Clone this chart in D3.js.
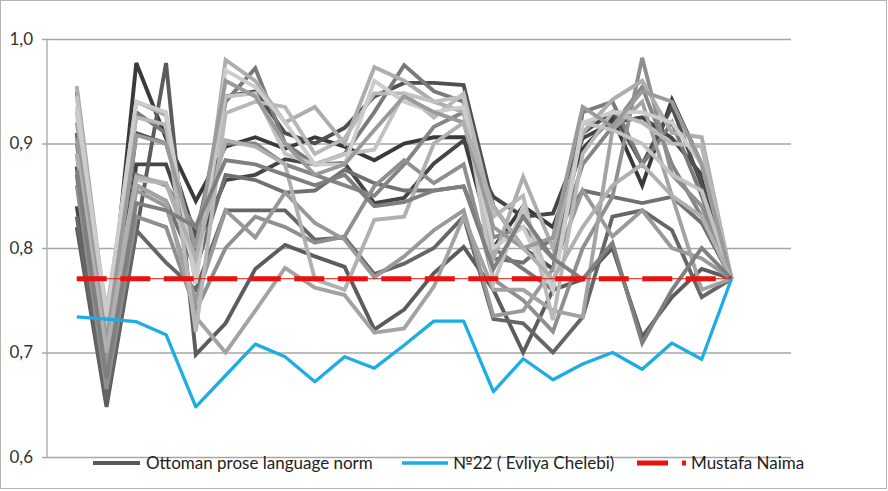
<!DOCTYPE html>
<html><head><meta charset="utf-8">
<script src="https://cdn.jsdelivr.net/npm/d3@7"></script>
<style>
html,body{margin:0;padding:0;background:#fff;}
svg{display:block;font-family:Lato,"Open Sans",sans-serif;}
</style></head>
<body>
<svg id="chart" width="888" height="491"></svg>
<script>
// ---- data ----
const pointCount = 23; // texts along the x axis (no category labels shown)
const yTicks = [0.6, 0.7, 0.8, 0.9, 1.0];
const legendLabels = ["Ottoman prose language norm", "№22 ( Evliya Chelebi)", "Mustafa Naima"];

const naima = 0.7706;
const evliya = [0.734, 0.732, 0.7295, 0.717, 0.648, 0.678, 0.708, 0.696, 0.672, 0.696, 0.685, 0.707, 0.730, 0.730, 0.6625, 0.694, 0.674, 0.689, 0.700, 0.684, 0.709, 0.6935, 0.7706];

const grayColors = ["#3a3a3a","#454545","#4f4f4f","#5c5c5c","#666666","#707070","#7a7a7a","#858585","#8f8f8f","#999999","#a3a3a3","#adadad","#b8b8b8","#c2c2c2","#cccccc","#9a9a9a","#b0b0b0","#7f7f7f"];
const g1  = [0.878,0.700,0.977,0.905,0.845,0.897,0.906,0.895,0.906,0.897,0.884,0.900,0.906,0.906,0.800,0.840,0.820,0.895,0.925,0.860,0.942,0.880,0.7706];
const g2  = [0.840,0.660,0.880,0.880,0.800,0.865,0.870,0.885,0.880,0.881,0.843,0.848,0.881,0.903,0.849,0.830,0.833,0.905,0.920,0.925,0.905,0.870,0.7706];
const g3  = [0.910,0.680,0.910,0.900,0.810,0.945,0.950,0.910,0.900,0.915,0.945,0.958,0.958,0.956,0.840,0.800,0.780,0.910,0.930,0.880,0.935,0.860,0.7706];
const g4  = [0.820,0.648,0.815,0.977,0.698,0.728,0.780,0.803,0.792,0.782,0.722,0.741,0.776,0.801,0.760,0.700,0.760,0.770,0.800,0.715,0.753,0.780,0.7706];
const g5  = [0.830,0.655,0.817,0.786,0.760,0.836,0.836,0.836,0.808,0.810,0.775,0.785,0.800,0.830,0.732,0.728,0.700,0.734,0.830,0.836,0.817,0.753,0.7706];
const g6  = [0.870,0.670,0.860,0.845,0.780,0.870,0.865,0.853,0.855,0.875,0.862,0.855,0.855,0.859,0.790,0.786,0.810,0.855,0.849,0.843,0.849,0.824,0.7706];
const g7  = [0.950,0.690,0.930,0.910,0.790,0.940,0.972,0.900,0.880,0.890,0.930,0.975,0.950,0.940,0.800,0.780,0.760,0.930,0.940,0.880,0.920,0.850,0.7706];
const g8  = [0.900,0.700,0.870,0.860,0.820,0.900,0.900,0.880,0.870,0.860,0.850,0.880,0.916,0.930,0.810,0.820,0.790,0.880,0.916,0.954,0.880,0.830,0.7706];
const g9  = [0.860,0.665,0.830,0.820,0.740,0.800,0.830,0.820,0.805,0.811,0.859,0.884,0.862,0.880,0.770,0.750,0.720,0.800,0.849,0.982,0.870,0.840,0.7706];
const g10 = [0.890,0.685,0.855,0.840,0.750,0.836,0.810,0.853,0.824,0.808,0.772,0.792,0.817,0.836,0.735,0.740,0.780,0.855,0.811,0.836,0.800,0.790,0.7706];
const g11 = [0.920,0.720,0.860,0.845,0.734,0.700,0.740,0.781,0.762,0.755,0.719,0.723,0.763,0.830,0.760,0.760,0.740,0.734,0.913,0.940,0.850,0.760,0.7706];
const g12 = [0.955,0.730,0.940,0.927,0.766,0.980,0.960,0.920,0.935,0.900,0.973,0.960,0.940,0.930,0.790,0.868,0.800,0.910,0.942,0.960,0.910,0.906,0.7706];
const g13 = [0.930,0.740,0.925,0.918,0.720,0.929,0.940,0.935,0.890,0.905,0.948,0.948,0.925,0.948,0.830,0.850,0.731,0.890,0.930,0.920,0.900,0.897,0.7706];
const g14 = [0.945,0.720,0.865,0.862,0.780,0.945,0.948,0.890,0.880,0.890,0.894,0.948,0.940,0.945,0.766,0.840,0.760,0.920,0.913,0.900,0.870,0.855,0.7706];
const g15 = [0.935,0.735,0.940,0.930,0.766,0.970,0.954,0.920,0.880,0.880,0.960,0.940,0.930,0.935,0.800,0.820,0.760,0.920,0.930,0.930,0.920,0.880,0.7706];
const g16 = [0.905,0.710,0.908,0.900,0.800,0.960,0.945,0.900,0.870,0.880,0.913,0.945,0.930,0.920,0.820,0.800,0.810,0.935,0.916,0.950,0.940,0.880,0.7706];
const g17 = [0.890,0.700,0.868,0.862,0.790,0.903,0.897,0.880,0.770,0.760,0.827,0.830,0.900,0.920,0.840,0.800,0.770,0.820,0.860,0.880,0.850,0.830,0.7706];
const g18 = [0.875,0.675,0.843,0.836,0.820,0.884,0.880,0.870,0.860,0.870,0.840,0.844,0.855,0.859,0.780,0.830,0.790,0.770,0.805,0.709,0.760,0.800,0.7706];
const graySeries = [g1,g2,g3,g4,g5,g6,g7,g8,g9,g10,g11,g12,g13,g14,g15,g16,g17,g18];

// ---- layout ----
const svg = d3.select("#chart");
const plotL = 47, plotR = 791, plotT = 39, plotB = 457;
const x = d3.scaleLinear().domain([-1, pointCount + 1]).range([plotL, plotR]);
const y = d3.scaleLinear().domain([0.6, 1.0]).range([plotB, plotT]);
const idx = d3.range(pointCount);
const line = d3.line().x((d, i) => x(i)).y(d => y(d));

// outer border
svg.append("rect").attr("x", 0.5).attr("y", 0.5).attr("width", 886).attr("height", 488)
  .attr("fill", "#fff").attr("stroke", "#b4b4b4").attr("stroke-width", 1);

// grid
const fmt = v => d3.format(".1f")(v).replace(".", ",");
const yAxis = d3.axisLeft(y).tickValues(yTicks).tickSize(-(plotR - plotL)).tickPadding(14).tickFormat(fmt);
const ga = svg.append("g").attr("transform", `translate(${plotL},0)`).call(yAxis);
ga.select(".domain").remove();
ga.selectAll(".tick line").attr("stroke", "#a6a6a6").attr("stroke-width", 1.3).attr("x1", -5);
ga.selectAll(".tick text").attr("fill", "#333").attr("font-size", 17).attr("font-family", "Lato, sans-serif");
svg.append("line").attr("x1", plotL).attr("x2", plotL).attr("y1", plotT).attr("y2", plotB)
  .attr("stroke", "#a6a6a6").attr("stroke-width", 1.3);

// gray series
const gg = svg.append("g");
graySeries.forEach((s, k) => {
  gg.append("path").datum(s).attr("d", line).attr("fill", "none")
    .attr("stroke", grayColors[k]).attr("stroke-width", 3.9).attr("stroke-linejoin", "miter");
});

// Mustafa Naima (constant)
const naimaData = idx.map(() => naima);
svg.append("path").datum(naimaData).attr("d", line).attr("fill", "none")
  .attr("stroke", "#e8130f").attr("stroke-width", 1);
svg.append("path").datum(naimaData).attr("d", line).attr("fill", "none")
  .attr("stroke", "#e8130f").attr("stroke-width", 5).attr("stroke-dasharray", "30,13.5");

// Evliya
svg.append("path").datum(evliya).attr("d", line).attr("fill", "none")
  .attr("stroke", "#1badE4").attr("stroke-width", 3.3).attr("stroke-linejoin", "round");

// legend
const legY = 463;
const leg = [
  {x1: 93, x2: 140, tx: 146, color: "#595959", w: 4, dash: null},
  {x1: 402, x2: 448, tx: 453, color: "#1badE4", w: 3.5, dash: null},
  {x1: 637, x2: 686, tx: 691, color: "#e8130f", w: 5, dash: "31,14"}
];
leg.forEach((d, i) => {
  svg.append("text").attr("x", d.tx).attr("y", legY + 6).text(legendLabels[i])
    .attr("font-size", 17).attr("fill", "#222");
  svg.append("line").attr("x1", d.x1).attr("x2", d.x2).attr("y1", legY).attr("y2", legY)
    .attr("stroke", d.color).attr("stroke-width", d.w).attr("stroke-dasharray", d.dash);
});
</script>
</body></html>
